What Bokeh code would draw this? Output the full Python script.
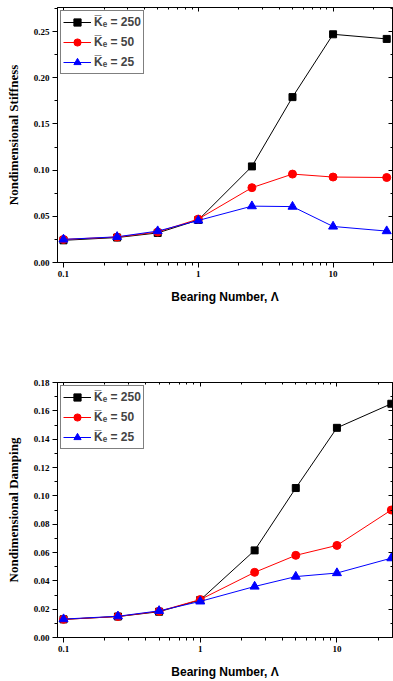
from bokeh.plotting import figure
from bokeh.layouts import column
from bokeh.models import (Range1d, LogAxis, LinearAxis, FixedTicker, SingleIntervalTicker,
                          NumeralTickFormatter, Legend, LegendItem, ColumnDataSource)
from bokeh.embed import file_html
from bokeh.resources import INLINE

bearing = [0.1, 0.25, 0.5, 1, 2.5, 5, 10, 25]
stiff_250 = [0.024, 0.027, 0.032, 0.046, 0.104, 0.179, 0.247, 0.242]
stiff_50 = [0.025, 0.0275, 0.033, 0.047, 0.081, 0.0957, 0.0925, 0.092]
stiff_25 = [0.025, 0.0278, 0.034, 0.0455, 0.061, 0.0605, 0.039, 0.034]
damp_250 = [0.0128, 0.0148, 0.0182, 0.0265, 0.0615, 0.1055, 0.148, 0.165]
damp_50 = [0.0128, 0.0148, 0.0185, 0.0268, 0.046, 0.058, 0.065, 0.090]
damp_25 = [0.0130, 0.0150, 0.0188, 0.0255, 0.036, 0.043, 0.0455, 0.056]
labels = ["K\u0305\u2091 = 250", "K\u0305\u2091 = 50", "K\u0305\u2091 = 25"]
x_major = [0.1, 1, 10]
x_minor = [m * 10 ** k for k in (-1, 0, 1) for m in range(2, 10)]

SERIF = "Liberation Serif"
SANS = "Liberation Sans"


def make(ylabel, series, yend, ystep, height, top, bottom, left, xend):
    p = figure(width=393, height=height, x_axis_type="log", output_backend="svg",
               toolbar_location=None, x_range=Range1d(0.0903, xend),
               y_range=Range1d(0, yend), min_border_top=top, min_border_bottom=bottom,
               min_border_left=left, min_border_right=1)
    p.grid.visible = False
    p.outline_line_color = "black"
    p.outline_line_width = 1
    p.background_fill_color = "white"
    p.border_fill_color = "white"

    xt = FixedTicker(ticks=x_major, minor_ticks=x_minor)
    yt = SingleIntervalTicker(interval=ystep, num_minor_ticks=2)
    xa = p.xaxis[0]
    xa.ticker = xt
    xa.major_label_overrides = {0.1: "0.1", 1: "1", 10: "10"}
    xa.axis_label = "Bearing Number, \u039b"
    xa.axis_label_text_font = SANS
    xa.axis_label_text_font_style = "bold"
    xa.axis_label_text_font_size = "12px"
    xa.axis_label_standoff = 10
    ya = p.yaxis[0]
    ya.ticker = yt
    ya.formatter = NumeralTickFormatter(format="0.00")
    ya.axis_label = ylabel
    ya.axis_label_text_font = SERIF
    ya.axis_label_text_font_style = "bold"
    ya.axis_label_text_font_size = "13px"
    ya.axis_label_standoff = 10
    for a in (xa, ya):
        a.major_label_text_font = SERIF
        a.major_label_text_font_style = "bold"
        a.major_label_text_font_size = "9px"
        a.major_label_text_color = "black"
        a.axis_label_text_color = "black"
        a.major_tick_out = 5
        a.major_tick_in = 0
        a.minor_tick_out = 3
        a.minor_tick_in = 0
        a.major_label_standoff = 3
        a.axis_line_color = "black"
        a.major_tick_line_color = "black"
        a.minor_tick_line_color = "black"

    top_ax = LogAxis(ticker=FixedTicker(ticks=x_major, minor_ticks=x_minor),
                     major_label_text_alpha=0, major_label_text_font_size="1px",
                     major_label_standoff=0,
                     major_tick_in=4, major_tick_out=0, minor_tick_in=2, minor_tick_out=0)
    right_ax = LinearAxis(ticker=SingleIntervalTicker(interval=ystep, num_minor_ticks=2),
                          major_label_text_alpha=0, major_label_text_font_size="1px",
                          major_label_standoff=0,
                          major_tick_in=4, major_tick_out=0, minor_tick_in=2, minor_tick_out=0)
    p.add_layout(top_ax, "above")
    p.add_layout(right_ax, "right")

    colors = ["black", "red", "blue"]
    items = []
    sizes = {"square": 7, "circle": 8, "triangle": 9}
    for (vals, col, mk, lab) in zip(series, colors, ["square", "circle", "triangle"], labels):
        src = ColumnDataSource(dict(x=bearing, y=vals))
        ln = p.line("x", "y", source=src, line_color=col, line_width=1)
        sc = p.scatter("x", "y", source=src, marker=mk, size=sizes[mk], fill_color=col,
                       line_color=col)
        items.append(LegendItem(label=lab, renderers=[ln, sc]))
    leg = Legend(items=items, location="top_left")
    leg.margin = 3
    leg.padding = 2
    leg.spacing = 2
    leg.border_line_color = "black"
    leg.border_line_width = 1
    leg.label_text_font = SANS
    leg.label_text_font_style = "bold"
    leg.label_text_font_size = "12px"
    leg.glyph_width = 28
    leg.glyph_height = 18
    leg.label_height = 18
    leg.label_standoff = 3
    leg.background_fill_alpha = 1
    p.add_layout(leg)
    return p


p1 = make("Nondimensional Stiffness", [stiff_250, stiff_50, stiff_25], 0.276, 0.05,
          335, 7, 73, 57, 27.6)
p2 = make("Nondimensional Damping", [damp_250, damp_50, damp_25], 0.18, 0.02,
          346, 47, 43, 52, 25.5)

layout = column(p1, p2, spacing=0)
open("out.html", "w").write(file_html(layout, INLINE))
